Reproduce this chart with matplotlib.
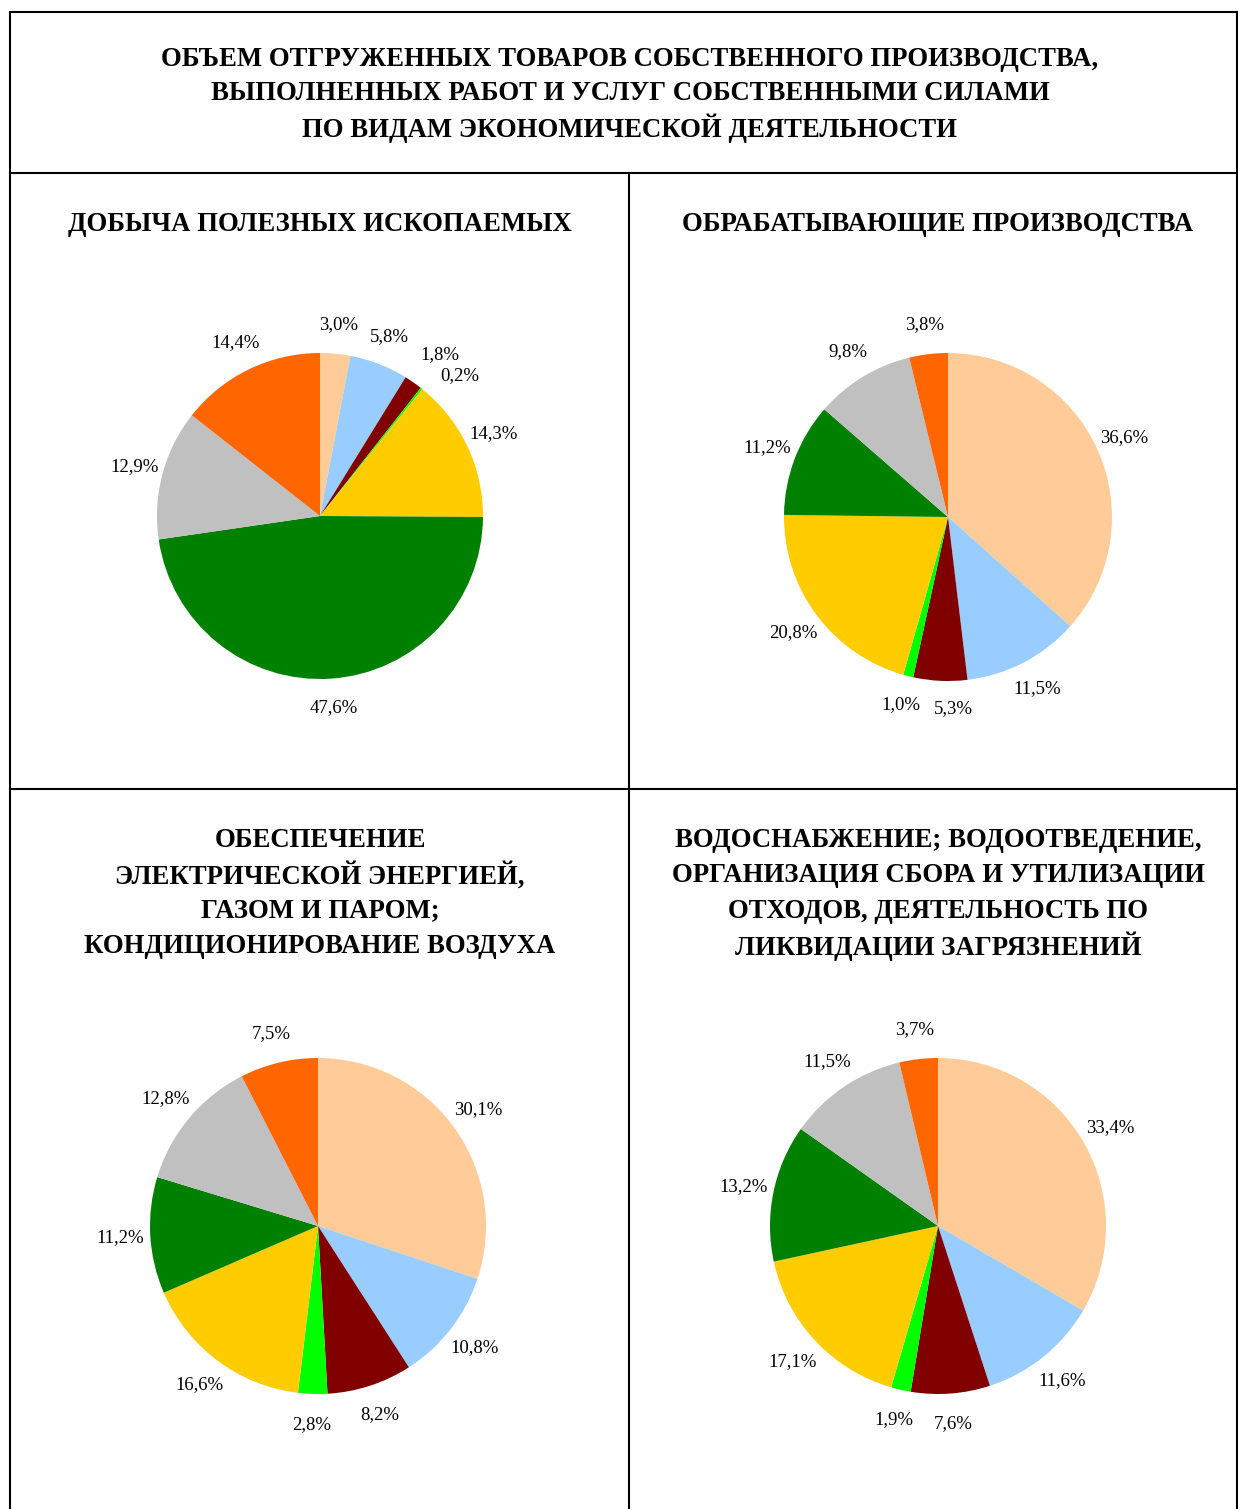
import matplotlib.pyplot as plt
from matplotlib.lines import Line2D

W, H = 1238, 1509
plt.rcParams['font.family'] = ['Liberation Serif', 'DejaVu Serif']

# цвета секторов (одинаковые для всех диаграмм)
colors = ['#FFCC99', '#99CCFF', '#800000', '#00FF00',
          '#FFCC00', '#008000', '#C0C0C0', '#FF6600']

title = ['ОБЪЕМ ОТГРУЖЕННЫХ ТОВАРОВ СОБСТВЕННОГО ПРОИЗВОДСТВА,',
         'ВЫПОЛНЕННЫХ РАБОТ И УСЛУГ СОБСТВЕННЫМИ СИЛАМИ',
         'ПО ВИДАМ ЭКОНОМИЧЕСКОЙ ДЕЯТЕЛЬНОСТИ']

titles = [
    ['ДОБЫЧА ПОЛЕЗНЫХ ИСКОПАЕМЫХ'],
    ['ОБРАБАТЫВАЮЩИЕ ПРОИЗВОДСТВА'],
    ['ОБЕСПЕЧЕНИЕ', 'ЭЛЕКТРИЧЕСКОЙ ЭНЕРГИЕЙ,', 'ГАЗОМ И ПАРОМ;', 'КОНДИЦИОНИРОВАНИЕ ВОЗДУХА'],
    ['ВОДОСНАБЖЕНИЕ; ВОДООТВЕДЕНИЕ,', 'ОРГАНИЗАЦИЯ СБОРА И УТИЛИЗАЦИИ',
     'ОТХОДОВ, ДЕЯТЕЛЬНОСТЬ ПО', 'ЛИКВИДАЦИИ ЗАГРЯЗНЕНИЙ'],
]

dobycha = [3.0, 5.8, 1.8, 0.2, 14.3, 47.6, 12.9, 14.4]
obrab = [36.6, 11.5, 5.3, 1.0, 20.8, 11.2, 9.8, 3.8]
energy = [30.1, 10.8, 8.2, 2.8, 16.6, 11.2, 12.8, 7.5]
voda = [33.4, 11.6, 7.6, 1.9, 17.1, 13.2, 11.5, 3.7]

fig = plt.figure(figsize=(W / 100, H / 100), dpi=100)

# рамка таблицы (в пикселях)
def hline(y, x0, x1):
    fig.add_artist(Line2D([x0 / W, x1 / W], [1 - y / H, 1 - y / H], color='black', lw=1.5))

def vline(x, y0, y1):
    fig.add_artist(Line2D([x / W, x / W], [1 - y0 / H, 1 - y1 / H], color='black', lw=1.5))

def lines_text(x, y0, lines, step=35.3):
    for k, s in enumerate(lines):
        fig.text(x / W, 1 - (y0 + 2.5 + k * step) / H, s, ha='center', va='center',
                 fontsize=19.3, fontweight='bold')

hline(12, 10, 1238)
hline(173, 10, 1238)
hline(789, 10, 1238)
vline(10, 12, 1509)
vline(1237, 12, 1509)
vline(629, 173, 1509)

lines_text(630, 57, title, step=34.5)

# центр и радиус каждой диаграммы, положение заголовка
pies = [
    (dobycha, 320, 516, 163, 320, 222),
    (obrab, 948, 517, 164, 938, 222),
    (energy, 318, 1226, 168, 320, 838),
    (voda, 938, 1226, 168, 938, 838),
]

for i, (vals, cx, cy, r, tx, ty) in enumerate(pies):
    ax = fig.add_axes([(cx - r) / W, 1 - (cy + r) / H, 2 * r / W, 2 * r / H])
    labels = [f'{v:.1f}%'.replace('.', ',') for v in vals]
    wedges, texts = ax.pie(vals, colors=colors, startangle=90, counterclock=False,
                           labels=labels, labeldistance=1.18, radius=1,
                           wedgeprops=dict(linewidth=0))
    for t in texts:
        t.set_ha('center')
        t.set_va('center')
        t.set_fontsize(13.5)
        t.set_clip_on(False)
    if i == 0:
        # мелкие сектора: разнести подписи 1,8% и 0,2%
        x, y = texts[2].get_position()
        texts[2].set_position((x + 0.06, y + 0.02))
        x, y = texts[3].get_position()
        texts[3].set_position((x + 0.12, y - 0.06))
    if i == 1:
        x, y = texts[2].get_position()
        texts[2].set_position((x + 0.09, y + 0.01))
    ax.set_xlim(-1, 1)
    ax.set_ylim(-1, 1)
    ax.set_aspect('auto')
    ax.axis('off')
    lines_text(tx, ty, titles[i])

fig.savefig('out.png', dpi=100)
